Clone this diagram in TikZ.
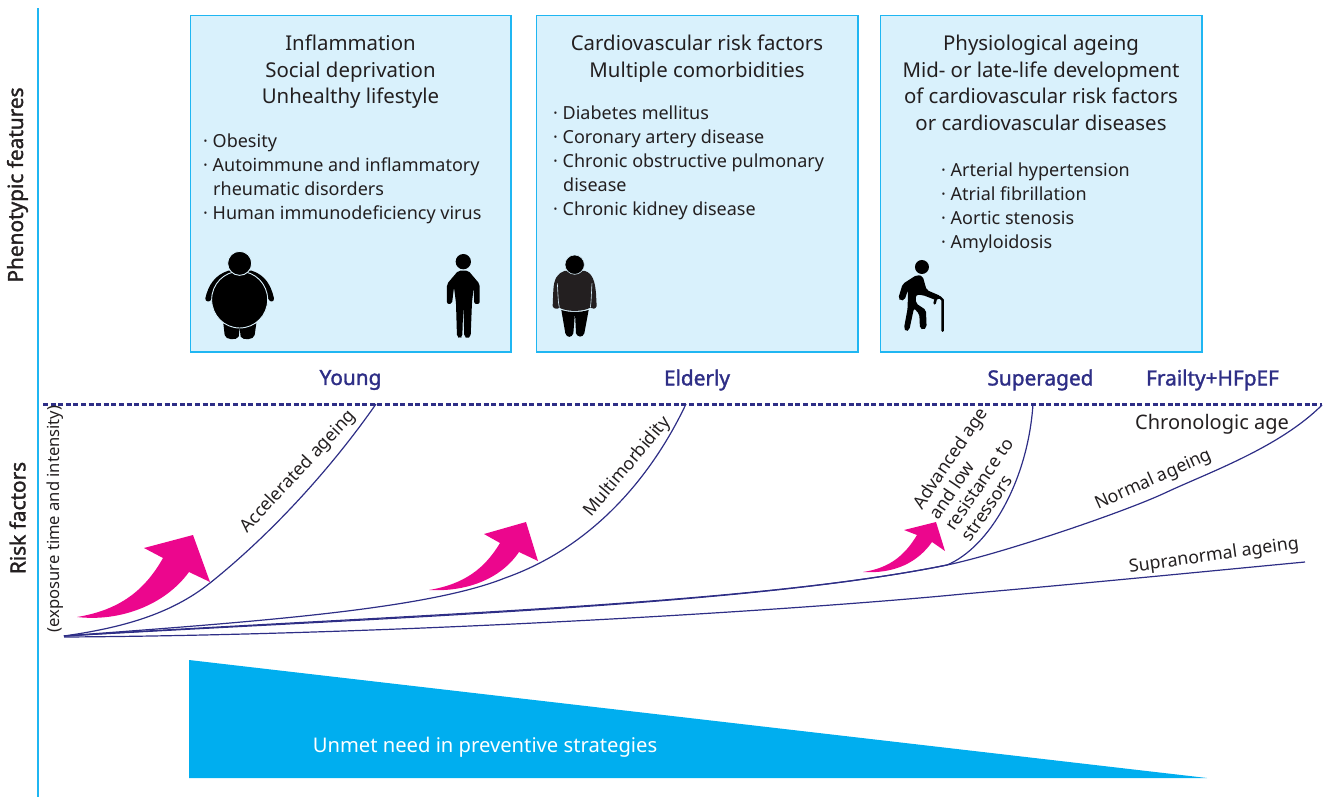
\documentclass[tikz,border=0pt]{standalone}
\usepackage{fontspec}
\setmainfont{Noto Sans}
\newfontfamily\semibold[FakeBold=1.6]{Noto Sans}
\definecolor{boxfill}{HTML}{D9F1FC}
\definecolor{boxline}{HTML}{1FB6F2}
\definecolor{navy}{HTML}{2E2E86}
\definecolor{pinkarrow}{HTML}{EC068D}
\definecolor{tricolor}{HTML}{00AEEF}
\definecolor{txt}{HTML}{231F20}
\tikzset{
  panel/.style={draw=boxline,fill=boxfill,line width=1.5pt,minimum width=#1,minimum height=336pt,inner sep=0pt,anchor=north west},
  headtxt/.style={text=txt,align=center,font=\fontsize{20.4}{26.5}\selectfont,inner sep=0pt},
  listtxt/.style={text=txt,align=left,font=\fontsize{18}{24}\selectfont,inner sep=0pt,anchor=north west},
  agelabel/.style={text=navy,font=\fontsize{20.8}{22}\selectfont\semibold,inner sep=0pt},
  curvelabel/.style={text=txt,font=\fontsize{17.8}{19.5}\selectfont,inner sep=0pt,align=center},
  agecurve/.style={draw=navy,line width=1.2pt},
  pinkshape/.style={fill=pinkarrow,draw=none},
  sidelabel/.style={text=txt,font=\fontsize{20.8}{22}\selectfont\semibold,rotate=90,inner sep=0pt},
}
\begin{document}
\begin{tikzpicture}[x=1pt,y=-1pt]
\useasboundingbox (0,0) rectangle (1325,797);
% axis
\fill[boxline] (37,8) rectangle (38.6,797);
% panels
\node[panel=320.5pt] (p1) at (189.6,15) {};
\node[panel=321.5pt] (p2) at (535.6,15) {};
\node[panel=321.5pt] (p3) at (879.6,15) {};
\node[headtxt,anchor=north] (h1) at (350.5,35) {Inflammation\\Social deprivation\\Unhealthy lifestyle};
\node[headtxt,anchor=north] (h2) at (697,35) {Cardiovascular risk factors\\Multiple comorbidities};
\node[headtxt,anchor=north] (h3) at (1041,35) {Physiological ageing\\Mid- or late-life development\\of cardiovascular risk factors\\or cardiovascular diseases};
\node[listtxt] (l1) at (203,134) {· Obesity\\· Autoimmune and inflammatory\\\hspace*{10pt}rheumatic disorders\\· Human immunodeficiency virus};
\node[listtxt] (l2) at (553,106) {· Diabetes mellitus\\· Coronary artery disease\\· Chronic obstructive pulmonary\\\hspace*{10pt}disease\\· Chronic kidney disease};
\node[listtxt] (l3) at (941,163) {· Arterial hypertension\\· Atrial fibrillation\\· Aortic stenosis\\· Amyloidosis};
% icons: obese person and thin person
\begin{scope}[shift={(190,230)},x=.3333pt,y=-.3333pt]
  \fill[black] (115,122) .. controls (75,135) and (55,165) .. (46,205) .. controls (45,216) and (60,218) .. (64,208) -- (150,150) -- (236,208) .. controls (240,218) and (253,216) .. (252,205) .. controls (243,165) and (225,135) .. (185,122) -- cycle;
  \fill[black] (100,280) -- (104,315) .. controls (106,330) and (140,332) .. (146,320) -- (149,292) -- (152,320) .. controls (158,332) and (192,330) .. (194,315) -- (199,280) -- cycle;
  \fill[black,draw=boxfill,line width=.9pt] (149,209) ellipse (84 and 85);
  \fill[black,draw=boxfill,line width=.9pt] (149,100) circle (36);
  % thin person
  \fill[black] (820,95) circle (23);
  \fill[black,rounded corners=2pt] (805,122) -- (835,122) -- (869,162) -- (869,222) -- (853,222) -- (851,172) -- (846,218) -- (842,320) -- (832,326) -- (823,320) -- (820,222) -- (817,320) -- (810,326) -- (801,320) -- (798,218) -- (792,172) -- (786,222) -- (771,222) -- (771,162) -- cycle;
\end{scope}
% icons: older overweight person and person with a cane
\begin{scope}[shift={(536,240)},x=.3333pt,y=-.3333pt]
  \fill[txt] (85,93) .. controls (65,100) and (54,115) .. (52,150) -- (50,198) .. controls (52,208) and (66,208) .. (70,203) .. controls (92,216) and (140,216) .. (163,203) .. controls (168,208) and (180,208) .. (182,198) -- (180,160) .. controls (177,125) and (170,100) .. (147,93) -- cycle;
  \draw[boxfill,line width=.6pt] (64,130) .. controls (66,160) and (66,185) .. (70,203);
  \draw[boxfill,line width=.6pt] (168,130) .. controls (166,160) and (166,185) .. (163,203);
  \fill[black] (76,210) .. controls (100,218) and (132,218) .. (158,210) -- (145,280) .. controls (140,294) and (124,292) .. (120,280) -- (117,218) -- (112,280) .. controls (108,294) and (92,294) .. (88,280) -- cycle;
  \fill[black,draw=boxfill,line width=.6pt] (116,74) circle (29);
  % cane person
  \fill[black] (1158,81) circle (21);
  \fill[black,rounded corners=2pt] (1100,132) -- (1142,105) -- (1160,108) -- (1172,150) -- (1214,168) -- (1204,182) -- (1160,165) -- (1140,165) -- (1140,190) -- (1170,210) -- (1172,262) -- (1162,270) -- (1152,265) -- (1150,222) -- (1134,205) -- (1120,270) -- (1110,275) -- (1104,265) -- (1115,205) -- (1116,150) -- (1106,180) -- (1094,182) -- (1087,175) -- cycle;
  \draw[black,line width=2.6pt,line cap=round,line join=round] (1220,272) -- (1220,180) -- (1212,172) -- (1200,174) -- (1196,190);
\end{scope}
% age labels
\node[agelabel] (young) at (350.5,380) {Young};
\node[agelabel] (elderly) at (697,380) {Elderly};
\node[agelabel] (superaged) at (1040.5,380) {Superaged};
\node[agelabel] (frailty) at (1212.5,380) {Frailty+HFpEF};
% dashed line
\coordinate (dl) at (43,404);
\coordinate (dr) at (1322,404);
\draw[navy,line width=3pt,dash pattern=on 5pt off 2.6pt] (dl) -- (dr);
% curves
\coordinate (o) at (64,636);
\coordinate (o2) at (64,637);
\coordinate (acc) at (376,404);
\coordinate (mul) at (686,404);
\coordinate (sup) at (1033,404);
\coordinate (nrm) at (1322,405);
\coordinate (spn) at (1305,562);
\coordinate (join) at (947,565);
\draw[agecurve] (o) .. controls (120,628) and (170,615) .. (210,583) .. controls (270,535) and (330,470) .. (acc);
\draw[agecurve] (o) .. controls (250,622) and (425,610) .. (505,578) .. controls (590,548) and (650,480) .. (mul);
\draw[agecurve] (o) .. controls (400,615) and (750,605) .. (join) .. controls (990,547) and (1028,480) .. (sup);
\draw[agecurve] (o) .. controls (400,617) and (750,605) .. (join) .. controls (1000,554) and (1125,512) .. (1167,492) .. controls (1210,472) and (1280,447) .. (nrm);
\draw[agecurve] (o2) .. controls (400,635) and (800,610) .. (963,594) .. controls (1100,582) and (1220,570) .. (spn);
% pink arrows
\fill[pinkshape] (77,617) .. controls (120,610) and (145,590) .. (163,558) -- (144,548) -- (193,535) -- (210,582) -- (189,572) .. controls (165,605) and (120,622) .. cycle;
\fill[pinkshape] (429,590) .. controls (465,584) and (485,568) .. (500,543) -- (484,534) -- (526,522) -- (538,561) -- (519,552) .. controls (500,580) and (465,592) .. cycle;
\fill[pinkshape] (863,572) .. controls (890,568) and (905,555) .. (917,535) -- (904,530) -- (936,522) -- (945,551) -- (932,542) .. controls (918,562) and (895,574) .. cycle;
% side labels
\node[sidelabel] (pf) at (17.5,185) {Phenotypic features};
\node[sidelabel] (rf) at (17.5,518) {Risk factors};
\node[text=txt,font=\fontsize{16.6}{18}\selectfont,rotate=90,inner sep=0pt] (et) at (55,519) {(exposure time and intensity)};
% curve labels
\node[curvelabel,rotate=47] (l-acc) at (298.5,472) {Accelerated ageing};
\node[curvelabel,rotate=50] (l-mul) at (627.5,467) {Multimorbidity};
\node[curvelabel,rotate=56,align=left] (l-adv) at (974,474) {Advanced age\\and low\\resistance to\\stressors};
\node[curvelabel,rotate=24] (l-nrm) at (1153.5,480) {Normal ageing};
\node[curvelabel,rotate=8] (l-spn) at (1214,556) {Supranormal ageing};
\node[text=txt,font=\fontsize{20}{22}\selectfont,inner sep=0pt] (chron) at (1212,424) {Chronologic age};
% triangle
\fill[tricolor] (189,660) -- (189,778) -- (1207,778) -- cycle;
\node[text=white,font=\fontsize{20.2}{22}\selectfont,inner sep=0pt] (unmet) at (485,747) {Unmet need in preventive strategies};
\end{tikzpicture}
\end{document}
